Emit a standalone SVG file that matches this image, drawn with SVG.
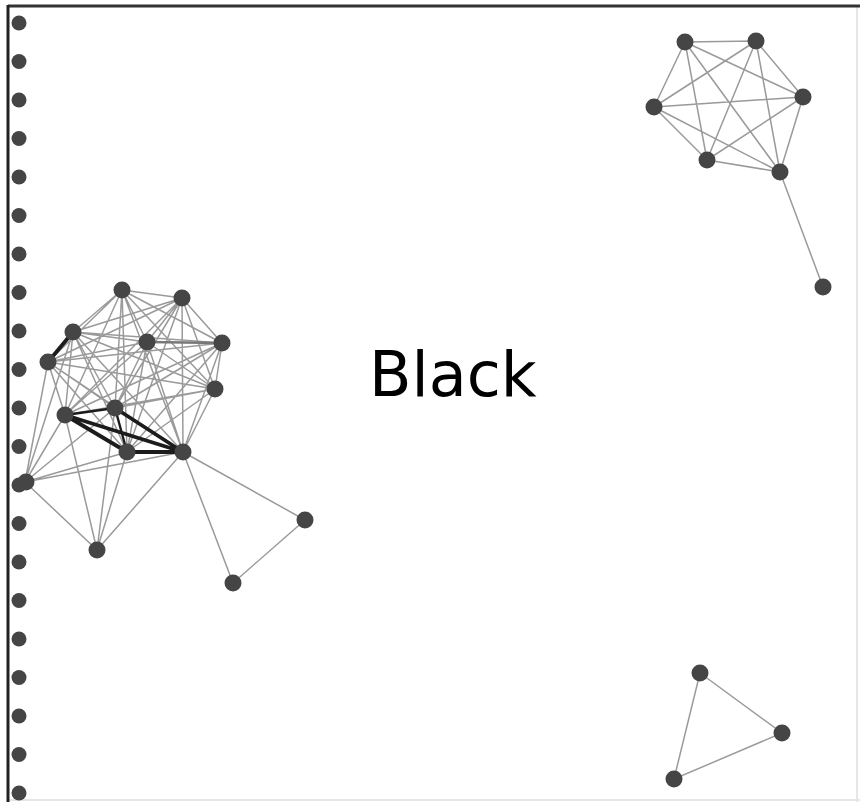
<svg xmlns="http://www.w3.org/2000/svg" width="860" height="802" viewBox="0 0 860 802">
<style>
.n{fill:#454545}
.e{stroke:#9a9a9a;stroke-width:1.5;fill:none}
.t{stroke:#1c1c1c;stroke-width:3.8;fill:none}
.m{stroke:#777;stroke-width:2.6;fill:none}
.lbl{font-family:"DejaVu Sans",sans-serif;font-size:62px;fill:#000}
</style>
<rect width="860" height="802" fill="#fff"/>
<line x1="857" y1="6" x2="857" y2="802" stroke="#e6e6e6" stroke-width="2"/>
<line x1="8" y1="800" x2="860" y2="800" stroke="#e6e6e6" stroke-width="2"/>
<line x1="8" y1="6" x2="860" y2="6" stroke="#333" stroke-width="3"/>
<line x1="8" y1="5" x2="8" y2="802" stroke="#222" stroke-width="3"/>
<g id="connectors">
<path class="e" d="M122 290L182 298M122 290L73 332M122 290L147 342M122 290L222 343M122 290L48 362M122 290L215 389M122 290L65 415M122 290L115 408M122 290L127 452M122 290L183 452
M182 298L73 332M182 298L147 342M182 298L222 343M182 298L48 362M182 298L215 389M182 298L65 415M182 298L115 408M182 298L127 452M182 298L183 452
M73 332L147 342M73 332L222 343M73 332L215 389M73 332L65 415M73 332L115 408M73 332L127 452M73 332L183 452
M147 342L48 362M147 342L215 389M147 342L65 415M147 342L115 408M147 342L127 452M147 342L183 452
M222 343L48 362M222 343L215 389M222 343L65 415M222 343L115 408M222 343L127 452M222 343L183 452
M48 362L215 389M48 362L65 415M48 362L115 408M48 362L127 452M48 362L183 452
M215 389L65 415M215 389L115 408M215 389L127 452M215 389L183 452
M25 482L48 362M25 482L73 332M25 482L65 415M25 482L115 408M25 482L127 452M25 482L183 452M25 482L97 550
M97 550L65 415M97 550L115 408M97 550L127 452M97 550L183 452
M183 452L305 520M183 452L233 583M305 520L233 583"/>
<path class="m" d="M147 342L222 343"/>
<path class="t" d="M73 332L48 362M65 415L183 452M65 415L127 452M115 408L183 452M127 452L183 452"/>
<path class="t" style="stroke-width:2.4" d="M65 415L115 408M115 408L127 452"/>
<path class="e" d="M685 42L756 41M685 42L803 97M685 42L654 107M685 42L707 160M685 42L780 172
M756 41L803 97M756 41L654 107M756 41L707 160M756 41L780 172
M803 97L654 107M803 97L707 160M803 97L780 172
M654 107L707 160M654 107L780 172M707 160L780 172M780 172L823 287"/>
<path class="e" d="M700 673L782 733L674 779Z"/>
</g>
<g id="column">
<g id="c0"><circle class="n" cx="19" cy="23" r="7.5"/></g>
<g id="c1"><circle class="n" cx="19" cy="61.5" r="7.5"/></g>
<g id="c2"><circle class="n" cx="19" cy="100" r="7.5"/></g>
<g id="c3"><circle class="n" cx="19" cy="138.5" r="7.5"/></g>
<g id="c4"><circle class="n" cx="19" cy="177" r="7.5"/></g>
<g id="c5"><circle class="n" cx="19" cy="215.5" r="7.5"/></g>
<g id="c6"><circle class="n" cx="19" cy="254" r="7.5"/></g>
<g id="c7"><circle class="n" cx="19" cy="292.5" r="7.5"/></g>
<g id="c8"><circle class="n" cx="19" cy="331" r="7.5"/></g>
<g id="c9"><circle class="n" cx="19" cy="369.5" r="7.5"/></g>
<g id="c10"><circle class="n" cx="19" cy="408" r="7.5"/></g>
<g id="c11"><circle class="n" cx="19" cy="446.5" r="7.5"/></g>
<g id="c12"><circle class="n" cx="19" cy="485" r="7.5"/></g>
<g id="c13"><circle class="n" cx="19" cy="523.5" r="7.5"/></g>
<g id="c14"><circle class="n" cx="19" cy="562" r="7.5"/></g>
<g id="c15"><circle class="n" cx="19" cy="600.5" r="7.5"/></g>
<g id="c16"><circle class="n" cx="19" cy="639" r="7.5"/></g>
<g id="c17"><circle class="n" cx="19" cy="677.5" r="7.5"/></g>
<g id="c18"><circle class="n" cx="19" cy="716" r="7.5"/></g>
<g id="c19"><circle class="n" cx="19" cy="754.5" r="7.5"/></g>
<g id="c20"><circle class="n" cx="19" cy="793" r="7.5"/></g>
</g>
<g id="nA"><circle class="n" cx="122" cy="290" r="8.5"/></g>
<g id="nB"><circle class="n" cx="182" cy="298" r="8.5"/></g>
<g id="nC"><circle class="n" cx="73" cy="332" r="8.5"/></g>
<g id="nD"><circle class="n" cx="147" cy="342" r="8.5"/></g>
<g id="nE"><circle class="n" cx="222" cy="343" r="8.5"/></g>
<g id="nF"><circle class="n" cx="48" cy="362" r="8.5"/></g>
<g id="nG"><circle class="n" cx="215" cy="389" r="8.5"/></g>
<g id="nH"><circle class="n" cx="65" cy="415" r="8.5"/></g>
<g id="nI"><circle class="n" cx="115" cy="408" r="8.5"/></g>
<g id="nJ"><circle class="n" cx="127" cy="452" r="8.5"/></g>
<g id="nK"><circle class="n" cx="183" cy="452" r="8.5"/></g>
<g id="nL"><circle class="n" cx="26" cy="482" r="8.5"/></g>
<g id="nM"><circle class="n" cx="97" cy="550" r="8.5"/></g>
<g id="nN"><circle class="n" cx="305" cy="520" r="8.5"/></g>
<g id="nO"><circle class="n" cx="233" cy="583" r="8.5"/></g>
<g id="nP"><circle class="n" cx="685" cy="42" r="8.5"/></g>
<g id="nQ"><circle class="n" cx="756" cy="41" r="8.5"/></g>
<g id="nR"><circle class="n" cx="803" cy="97" r="8.5"/></g>
<g id="nS"><circle class="n" cx="654" cy="107" r="8.5"/></g>
<g id="nT"><circle class="n" cx="707" cy="160" r="8.5"/></g>
<g id="nU"><circle class="n" cx="780" cy="172" r="8.5"/></g>
<g id="nV"><circle class="n" cx="823" cy="287" r="8.5"/></g>
<g id="nW"><circle class="n" cx="700" cy="673" r="8.5"/></g>
<g id="nX"><circle class="n" cx="782" cy="733" r="8.5"/></g>
<g id="nY"><circle class="n" cx="674" cy="779" r="8.5"/></g>
<text class="lbl" x="369" y="396">Black</text>
</svg>
